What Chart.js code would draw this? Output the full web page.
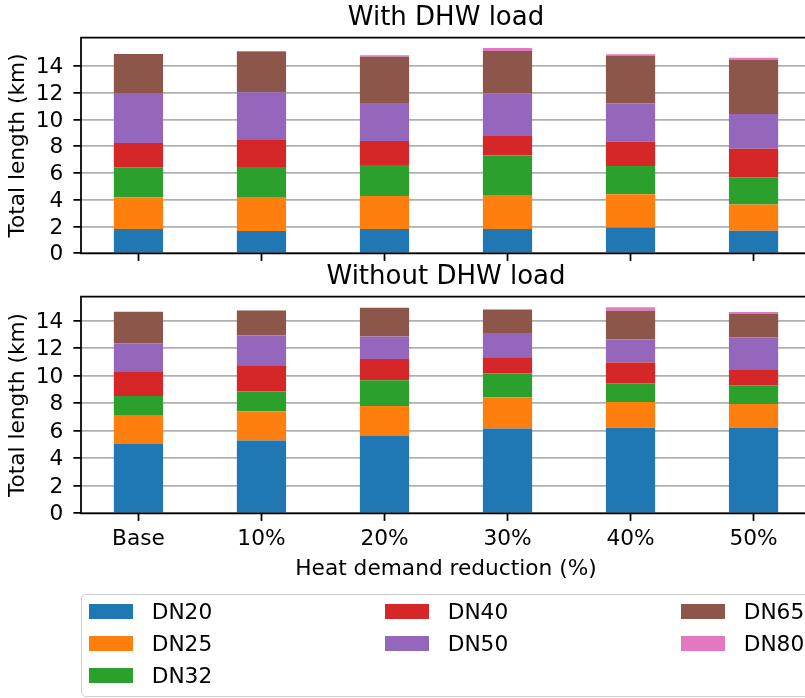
<!DOCTYPE html>
<html>
<head>
<meta charset="utf-8">
<script src="https://cdn.jsdelivr.net/npm/chart.js@4/dist/chart.umd.min.js"></script>
<style>
  html, body { margin: 0; padding: 0; background: #fff; overflow: hidden; width: 805px; height: 698px; }
  canvas { position: absolute; left: 0; top: 0; }
  #legendBox { position: absolute; left: 81px; top: 594px; width: 760px; height: 103px;
    border: 1.7px solid #cfcfcf; border-radius: 5px; box-sizing: border-box; }
  .patch { position: absolute; width: 44px; height: 15px; }
  .ltext { position: absolute; font: 21.7px "DejaVu Sans"; line-height: 26px; color: #000; white-space: nowrap; }
</style>
</head>
<body>
<canvas id="topChart" width="830" height="698"></canvas>
<canvas id="bottomChart" width="830" height="698"></canvas>
<div id="legendBox"></div>
<script>
// Scenarios on the x axis
const categories = ['Base', '10%', '20%', '30%', '40%', '50%'];
const yTicks = [0, 2, 4, 6, 8, 10, 12, 14];

// Pipe sizes and their colours
const seriesNames = ['DN20', 'DN25', 'DN32', 'DN40', 'DN50', 'DN65', 'DN80'];
const seriesColors = ['#1f77b4', '#ff7f0e', '#2ca02c', '#d62728', '#9467bd', '#8c564b', '#e377c2'];

// Network length per pipe size (km), with domestic hot water load
const dn20With = [1.82, 1.67, 1.82, 1.82, 1.92, 1.69];
const dn25With = [2.36, 2.54, 2.46, 2.54, 2.49, 1.95];
const dn32With = [2.25, 2.24, 2.32, 2.94, 2.12, 2.04];
const dn40With = [1.81, 2.02, 1.79, 1.47, 1.81, 2.14];
const dn50With = [3.74, 3.56, 2.84, 3.19, 2.87, 2.59];
const dn65With = [2.91, 3.04, 3.46, 3.16, 3.53, 4.04];
const dn80With = [0.00, 0.04, 0.10, 0.22, 0.13, 0.17];

// Network length per pipe size (km), without domestic hot water load
const dn20Without = [5.08, 5.30, 5.66, 6.17, 6.22, 6.20];
const dn25Without = [2.02, 2.11, 2.14, 2.24, 1.87, 1.75];
const dn32Without = [1.43, 1.44, 1.87, 1.75, 1.37, 1.36];
const dn40Without = [1.75, 1.92, 1.54, 1.19, 1.50, 1.17];
const dn50Without = [2.09, 2.16, 1.65, 1.75, 1.68, 2.31];
const dn65Without = [2.29, 1.82, 2.09, 1.70, 2.09, 1.70];
const dn80Without = [0.00, 0.00, 0.00, 0.04, 0.24, 0.14];

const withSeries = [dn20With, dn25With, dn32With, dn40With, dn50With, dn65With, dn80With];
const withoutSeries = [dn20Without, dn25Without, dn32Without, dn40Without, dn50Without, dn65Without, dn80Without];

const FONT = '"DejaVu Sans"';
Chart.defaults.font.family = FONT;
Chart.defaults.font.size = 21.7;
Chart.defaults.color = '#000';
const LINE = 1.75;

// Frame (spines drawn above the bars), panel title and axis titles
const framePlugin = {
  id: 'frame',
  afterDatasetsDraw(chart, args, opts) {
    const { ctx, chartArea: a } = chart;
    ctx.save();
    ctx.strokeStyle = '#000';
    ctx.lineWidth = LINE;
    ctx.lineCap = 'square';
    ctx.beginPath();
    ctx.moveTo(a.left, a.bottom);
    ctx.lineTo(a.left, a.top);
    ctx.lineTo(a.right, a.top);
    ctx.lineTo(a.right, a.bottom);
    ctx.closePath();
    ctx.stroke();

    ctx.fillStyle = '#000';
    ctx.textAlign = 'center';
    ctx.textBaseline = 'alphabetic';
    const cx = (a.left + a.right) / 2;
    ctx.font = '26px ' + FONT;
    ctx.fillText(opts.title, cx, a.top - 13);

    ctx.font = '21.7px ' + FONT;
    ctx.save();
    ctx.translate(a.left - 57.5, (a.top + a.bottom) / 2);
    ctx.rotate(-Math.PI / 2);
    ctx.fillText('Total length (km)', 0, 0);
    ctx.restore();

    if (opts.xTitle) ctx.fillText(opts.xTitle, cx, a.bottom + 61.7);
    ctx.restore();
  }
};

function makeDatasets(series) {
  return series.map((vals, s) => ({
    label: seriesNames[s],
    data: vals.map((v, i) => ({ x: i, y: v })),
    backgroundColor: seriesColors[s],
    borderWidth: 0,
    barPercentage: 0.4,
    categoryPercentage: 1.0,
    stack: 'pipes'
  }));
}

function makeChart(id, series, cfg) {
  return new Chart(document.getElementById(id), {
    type: 'bar',
    data: { datasets: makeDatasets(series) },
    plugins: [framePlugin],
    options: {
      responsive: false,
      animation: false,
      events: [],
      layout: { padding: { top: cfg.top, right: 19, bottom: cfg.bottom, left: 0 } },
      plugins: {
        legend: { display: false },
        tooltip: { enabled: false },
        frame: { title: cfg.title, xTitle: cfg.xTitle }
      },
      scales: {
        x: {
          type: 'linear',
          stacked: true,
          offset: false,
          min: -0.467,
          max: 5.467,
          afterBuildTicks: (scale) => { scale.ticks = categories.map((c, i) => ({ value: i })); },
          afterFit: (scale) => { scale.height = cfg.xHeight; },
          ticks: {
            padding: 5,
            maxRotation: 0,
            autoSkip: false,
            callback: (v) => cfg.showLabels ? categories[v] : ''
          },
          grid: { display: true, offset: false, drawOnChartArea: false, drawTicks: true,
                  tickLength: 7.6, tickColor: '#000', tickWidth: LINE },
          border: { display: false }
        },
        y: {
          type: 'linear',
          stacked: true,
          min: 0,
          max: cfg.yMax,
          afterBuildTicks: (scale) => { scale.ticks = yTicks.map((v) => ({ value: v })); },
          afterFit: (scale) => { scale.width = 81; },
          ticks: { padding: 10, labelOffset: 1.5 },
          grid: { color: '#b0b0b0', lineWidth: LINE, drawTicks: true, tickLength: 7.6,
                  tickColor: '#000', tickWidth: LINE },
          border: { display: false }
        }
      }
    }
  });
}

makeChart('topChart', withSeries, {
  title: 'With DHW load', top: 37.7, bottom: 424.7, xHeight: 20, yMax: 16.11, showLabels: false
});
makeChart('bottomChart', withoutSeries, {
  title: 'Without DHW load', xTitle: 'Heat demand reduction (%)', top: 296.7, bottom: 124.7, xHeight: 60, yMax: 15.745, showLabels: true
});

// Legend: three columns holding 3, 2 and 2 entries, filled top to bottom
const legendColumns = [[0, 1, 2], [3, 4], [5, 6]];
legendColumns.forEach((members, col) => {
  members.forEach((i, row) => {
    const patch = document.createElement('div');
    patch.className = 'patch';
    patch.style.left = (89.3 + col * 296) + 'px';
    patch.style.top = (604.3 + row * 32) + 'px';
    patch.style.background = seriesColors[i];
    document.body.appendChild(patch);
    const label = document.createElement('div');
    label.className = 'ltext';
    label.style.left = (151.7 + col * 296) + 'px';
    label.style.top = (598.8 + row * 32) + 'px';
    label.textContent = seriesNames[i];
    document.body.appendChild(label);
  });
});
</script>
</body>
</html>
